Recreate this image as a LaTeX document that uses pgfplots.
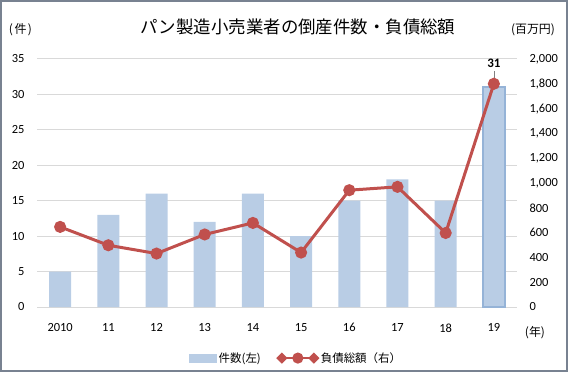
\documentclass[border=0pt]{standalone}
\usepackage{pgfplots}
\pgfplotsset{compat=1.18}
\usepackage{fontspec}
\setmainfont{Carlito}
\newfontfamily\jp{Noto Sans CJK JP}
\definecolor{barblue}{RGB}{185,205,229}
\definecolor{barborder}{RGB}{149,179,215}
\definecolor{linered}{RGB}{192,80,77}
\definecolor{gridgray}{RGB}{217,217,217}
\definecolor{framegray}{RGB}{120,130,145}
\begin{document}
\begin{tikzpicture}
\useasboundingbox (-37bp,-65bp) rectangle (531bp,307bp);
\draw[framegray, line width=1.5bp] (-36bp,-64bp) rectangle (530bp,306bp);
\pgfplotsset{
  common/.style={
    scale only axis, width=480bp, height=248bp,
    at={(0,0)}, anchor=south west,
    xmin=-0.48, xmax=9.48,
    tick style={draw=none},
    major tick length=0pt,
    /pgf/number format/assume math mode=true,
    ticklabel style={font=\fontsize{12.5}{14}\selectfont},
  }
}
\begin{axis}[common,
  ymin=0, ymax=35,
  axis line style={draw=none},
  ytick={0,5,...,35},
  xtick={0,...,9},
  xticklabels={2010,11,12,13,14,15,16,17,18,19},
  ymajorgrids, grid style={gridgray, line width=1bp},
  yticklabel style={anchor=east, xshift=-9bp},
  xticklabel style={anchor=north, yshift=-13bp},
  ybar, bar width=22bp, bar shift=0pt,
]
\addplot[fill=barblue, draw=none] coordinates {(0,5)(1,13)(2,16)(3,12)(4,16)(5,10)(6,15)(7,18)(8,15)};
\addplot[fill=barblue, draw=barborder, line width=2bp,
  nodes near coords, nodes near coords style={font=\bfseries\fontsize{13}{15}\selectfont, text=black, yshift=15bp}]
  coordinates {(9,31)};
\draw[gray, line width=0.5bp] (axis cs:9,32.0) -- (axis cs:9,33.3);
\end{axis}
\begin{axis}[common,
  ymin=0, ymax=2000,
  axis x line=none,
  axis y line*=right,
  axis line style={draw=none},
  ytick={0,200,...,2000},
  yticklabel style={anchor=west, xshift=9bp, /pgf/number format/.cd, 1000 sep={,}},
  legend columns=2,
  legend style={draw=none, fill=none, at={(0.54,-0.206)}, anchor=center,
    font=\jp\fontsize{11.5}{13}\selectfont,
    /tikz/every even column/.append style={column sep=14bp}},
]
\addlegendimage{legend image code/.code={\fill[barblue] (0bp,-4bp) rectangle (27bp,4bp);}}
\addlegendentry{件数(左)}
\addplot[linered, line width=3bp, mark=*, mark size=4.5bp, mark options={fill=linered},
  legend image code/.code={
    \draw[linered, line width=2.5bp] (0bp,0bp) -- (32bp,0bp);
    \fill[linered] (0bp,0bp) +(-3.5bp,0) -- +(0,3.5bp) -- +(3.5bp,0) -- +(0,-3.5bp) -- cycle;
    \fill[linered] (32bp,0bp) +(-3.5bp,0) -- +(0,3.5bp) -- +(3.5bp,0) -- +(0,-3.5bp) -- cycle;
    \fill[linered] (16bp,0bp) circle (4bp);
  }]
  coordinates {(0,646)(1,498)(2,431)(3,585)(4,678)(5,439)(6,942)(7,969)(8,597)(9,1800)};
\addlegendentry{負債総額（右）}
\end{axis}
\node[font=\jp\fontsize{17.5}{19}\selectfont] at (261bp,280bp) {パン製造小売業者の倒産件数・負債総額};
\node[font=\jp\fontsize{12}{14}\selectfont] at (-16.5bp,277bp) {(\hspace{1.5bp}件\hspace{1.5bp})};
\node[font=\jp\fontsize{12}{14}\selectfont] at (496bp,277bp) {(百万円)};
\node[font=\jp\fontsize{12}{14}\selectfont] at (498bp,-26bp) {(年)};
\end{tikzpicture}
\end{document}
